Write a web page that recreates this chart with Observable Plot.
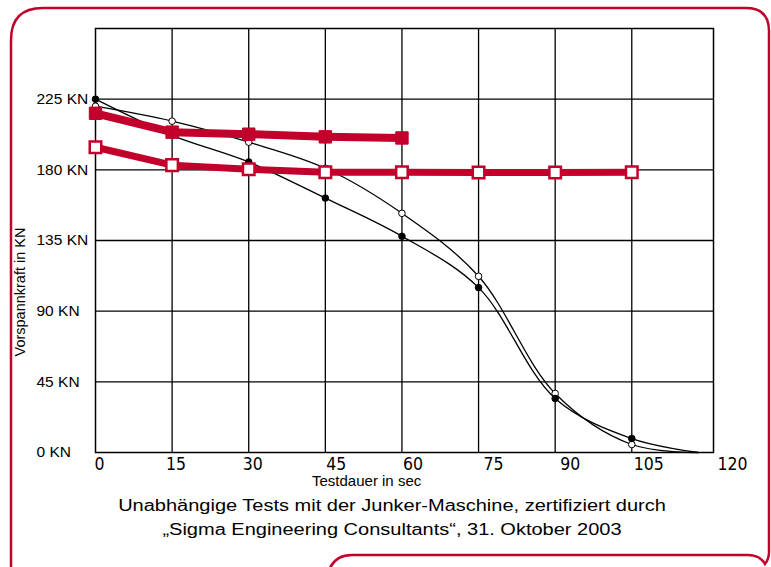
<!DOCTYPE html>
<html>
<head>
<meta charset="utf-8">
<script src="https://cdn.jsdelivr.net/npm/d3@7"></script>
<script src="https://cdn.jsdelivr.net/npm/@observablehq/plot@0.6"></script>
<style>
  html, body { margin: 0; padding: 0; background: #fff; }
  #wrap { position: relative; width: 771px; height: 567px; overflow: hidden; font-family: "Liberation Sans", Arial, sans-serif; }
  #frame { position: absolute; left: 0; top: 0; pointer-events: none; }
  #chart { position: absolute; left: 0; top: 0; }
  #caption { position: absolute; left: 0; top: 494px; width: 784px; text-align: center; font-size: 16px; line-height: 24px; color: #000; transform: scaleX(1.25); transform-origin: 392px 0; }
  #ylabel { position: absolute; left: 20px; top: 292px; font-size: 14.5px; white-space: nowrap; color: #000; transform: translate(-50%, -50%) rotate(-90deg); }
  #xlabel { position: absolute; left: 312px; top: 472px; font-size: 15px; line-height: 18px; white-space: nowrap; color: #000; }
</style>
</head>
<body>
<div id="wrap">
  <svg id="frame" width="771" height="567">
    <path d="M 11,590 L 11,40 Q 11,8 43,8 L 746,8 Q 769,8 769,31 L 769,552 Q 769,559 765,564 Q 760,555 748,555 L 352,555 Q 328,555 326,585"
          fill="none" stroke="#c1002b" stroke-width="2.5"/>
  </svg>
  <div id="chart"></div>
  <div id="ylabel">Vorspannkraft in KN</div>
  <div id="xlabel">Testdauer in sec</div>
  <div id="caption">Unabhängige Tests mit der Junker-Maschine, zertifiziert durch<br>„Sigma Engineering Consultants“, 31. Oktober 2003</div>
</div>
<script>
// --- data ---
const redTimes = [0, 15, 30, 45, 60];
const redUpper = [216, 204, 202.7, 201, 200.3];
const allTimes = [0, 15, 30, 45, 60, 75, 90, 105];
const redLower = [194.4, 183, 180.4, 178.5, 178.5, 178.3, 178.3, 178.5];
const curveTimes = [0, 15, 30, 45, 60, 75, 90, 105, 118];
const blackFilled = [225, 202, 185, 162, 137.7, 105, 34.4, 8.9, 0];
const blackOpen = [220.5, 211, 197.6, 181, 152.3, 112.2, 37.6, 5.1, 0];
const xTicks = [0, 15, 30, 45, 60, 75, 90, 105, 120];
const yTicks = [0, 45, 90, 135, 180, 225];

const upper = redTimes.map((t, i) => ({t, v: redUpper[i]}));
const lower = allTimes.map((t, i) => ({t, v: redLower[i]}));
const filled = curveTimes.map((t, i) => ({t, v: blackFilled[i]}));
const open = curveTimes.map((t, i) => ({t, v: blackOpen[i]}));
const dotsOf = arr => arr.filter(d => d.t <= 105);

const red = "#c1002b";
const narrow = "'Liberation Sans Narrow', 'DejaVu Sans Condensed', sans-serif";

const plot = Plot.plot({
  width: 771,
  height: 494,
  marginLeft: 95,
  marginRight: 58,
  marginTop: 28,
  marginBottom: 42,
  style: {fontFamily: "'Liberation Sans', Arial, sans-serif", fontSize: "15px", color: "#000", background: "transparent"},
  x: {domain: [0, 121], axis: null},
  y: {domain: [0, 270], axis: null},
  marks: [
    Plot.ruleX([15, 30, 45, 60, 75, 90, 105], {stroke: "#000", strokeWidth: 1.3}),
    Plot.ruleY([45, 90, 135, 180, 225], {stroke: "#000", strokeWidth: 1.3}),
    Plot.frame({stroke: "#000", strokeWidth: 1.5}),
    // y tick labels
    Plot.axisY(yTicks, {tickSize: 0, tickPadding: 0, textAnchor: "start", dx: -59, fontSize: 15.5, tickFormat: d => `${d} KN`, label: null}),
    // x tick labels (the printed labels drift right of their grid lines)
    Plot.axisX(xTicks.filter(d => d <= 30), {tickSize: 0, tickPadding: 5, dx: 4, fontSize: 17.5, fontFamily: narrow, label: null}),
    Plot.axisX(xTicks.filter(d => d >= 45 && d <= 60), {tickSize: 0, tickPadding: 5, dx: 11, fontSize: 17.5, fontFamily: narrow, label: null}),
    Plot.axisX(xTicks.filter(d => d >= 75 && d <= 90), {tickSize: 0, tickPadding: 5, dx: 15, fontSize: 17.5, fontFamily: narrow, label: null}),
    Plot.axisX(xTicks.filter(d => d === 105), {tickSize: 0, tickPadding: 5, dx: 17, fontSize: 17.5, fontFamily: narrow, label: null}),
    Plot.axisX(xTicks.filter(d => d === 120), {tickSize: 0, tickPadding: 5, dx: 24, fontSize: 17.5, fontFamily: narrow, label: null}),
    // black test curves
    Plot.line(open, {x: "t", y: "v", curve: "catmull-rom", stroke: "#000", strokeWidth: 1.3}),
    Plot.line(filled, {x: "t", y: "v", curve: "catmull-rom", stroke: "#000", strokeWidth: 1.3}),
    Plot.dot(dotsOf(open), {x: "t", y: "v", r: 3.3, fill: "#fff", stroke: "#000", strokeWidth: 1}),
    Plot.dot(dotsOf(filled), {x: "t", y: "v", r: 3.3, fill: "#000", stroke: "#000", strokeWidth: 1}),
    // red Junker curves
    Plot.line(upper, {x: "t", y: "v", stroke: red, strokeWidth: 8}),
    Plot.line(lower, {x: "t", y: "v", stroke: red, strokeWidth: 7}),
    Plot.dot(upper, {x: "t", y: "v", symbol: "square", r: 7, fill: red, stroke: red, strokeWidth: 1}),
    Plot.dot(lower, {x: "t", y: "v", symbol: "square", r: 6.5, fill: "#fff", stroke: red, strokeWidth: 2.5})
  ]
});
document.getElementById("chart").appendChild(plot);
</script>
</body>
</html>
